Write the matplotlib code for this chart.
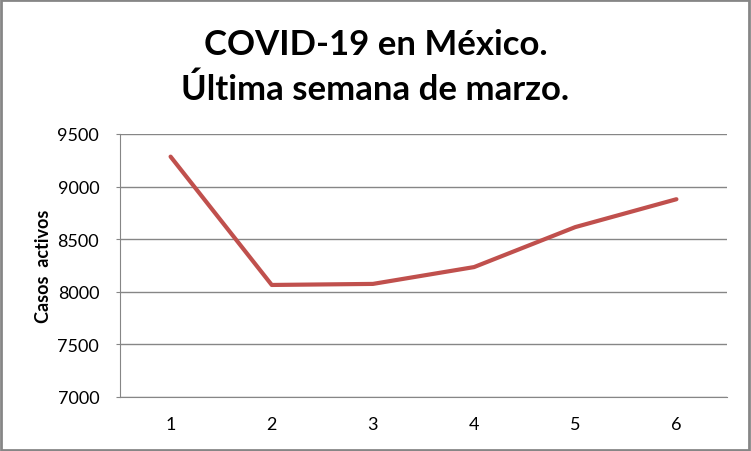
import matplotlib
matplotlib.use("Agg")
import matplotlib.pyplot as plt
from matplotlib.patches import Rectangle

# Datos
dias = [1, 2, 3, 4, 5, 6]
casos_activos = [9285, 8065, 8075, 8235, 8615, 8880]
y_ticks = [7000, 7500, 8000, 8500, 9000, 9500]

plt.rcParams['font.family'] = ['Lato', 'DejaVu Sans']

fig = plt.figure(figsize=(7.51, 4.52), dpi=100)
ax = fig.add_axes([120 / 751, 1 - 398 / 452, 607 / 751, 263 / 452])

ax.plot(dias, casos_activos, color="#C0504D", linewidth=3, solid_capstyle="round",
        solid_joinstyle="round", zorder=3)

ax.set_xlim(0.5, 6.5)
ax.set_ylim(7000, 9500)
ax.set_yticks(y_ticks)
ax.set_xticks(dias)
ax.set_xticklabels([str(d) for d in dias])
ax.grid(axis="y", color="#868686", linewidth=1)
ax.set_axisbelow(True)

for side in ["top", "right"]:
    ax.spines[side].set_visible(False)
ax.spines["left"].set_color("#868686")
ax.spines["bottom"].set_color("#868686")
ax.tick_params(axis="y", length=3, color="#868686", labelsize=13, pad=12)
ax.tick_params(axis="x", length=0, labelsize=13, pad=14)

ax.set_ylabel("Casos  activos", fontsize=13, fontweight="bold", labelpad=4)

fig.text(0.5, 1 - 45 / 452, "COVID-19 en México.", ha="center", va="center",
         fontsize=25, fontweight="bold")
fig.text(0.5, 1 - 90 / 452, "Última semana de marzo.", ha="center", va="center",
         fontsize=25, fontweight="bold")

# marco gris alrededor del grafico
fig.patches.append(Rectangle((0.001, 0.002), 0.997, 0.996, transform=fig.transFigure,
                             fill=False, edgecolor="#868686", linewidth=2))

fig.savefig("out.png", dpi=100)
